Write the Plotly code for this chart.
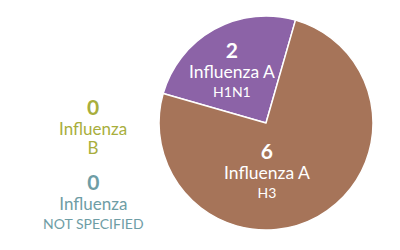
import plotly.graph_objects as go

labels = ["Influenza A H1N1", "Influenza A H3"]
values = [2, 6]
colors = ["#8C63A7", "#A67459"]
subs = ["H1N1", "H3"]

side_names = ["B", "NOT SPECIFIED"]
side_values = [0, 0]
side_colors = ["#A8AE3C", "#6E9DA5"]

FONT = "Lato"

fig = go.Figure(go.Pie(
    labels=labels, values=values, sort=False, direction="clockwise", rotation=-74,
    marker=dict(colors=colors, line=dict(color="white", width=1.5)),
    textinfo="none", hoverinfo="label+value", showlegend=False,
    domain=dict(x=[0.3975, 0.9325], y=[0.08, 0.936]),
))

ann = []
slice_pos = [(232, 68), (267, 169)]
for (px, py), v, s in zip(slice_pos, values, subs):
    txt = (f"<span style='font-size:21px'><b>{v}</b></span><br>"
           f"<span style='font-size:17.5px'>Influenza A</span><br>"
           f"<span style='font-size:14px'>{s}</span>")
    ann.append(dict(x=px / 400, y=1 - py / 250, xref="paper", yref="paper", showarrow=False,
                    xanchor="center", yanchor="middle", text=txt,
                    font=dict(family=FONT, size=15, color="white")))

side_pos = [(93, 126), (93, 200)]
side_sizes = [17, 14]
for (px, py), v, nm, c, ss in zip(side_pos, side_values, side_names, side_colors, side_sizes):
    txt = (f"<span style='font-size:21px'><b>{v}</b></span><br>"
           f"<span style='font-size:17px'>Influenza</span><br>"
           f"<span style='font-size:{ss}px'>{nm}</span>")
    ann.append(dict(x=px / 400, y=1 - py / 250, xref="paper", yref="paper", showarrow=False,
                    xanchor="center", yanchor="middle", text=txt,
                    font=dict(family=FONT, size=15, color=c)))

fig.update_layout(width=400, height=250, margin=dict(l=0, r=0, t=0, b=0),
                  paper_bgcolor="white", plot_bgcolor="white", annotations=ann)
fig.write_html("out.html")
